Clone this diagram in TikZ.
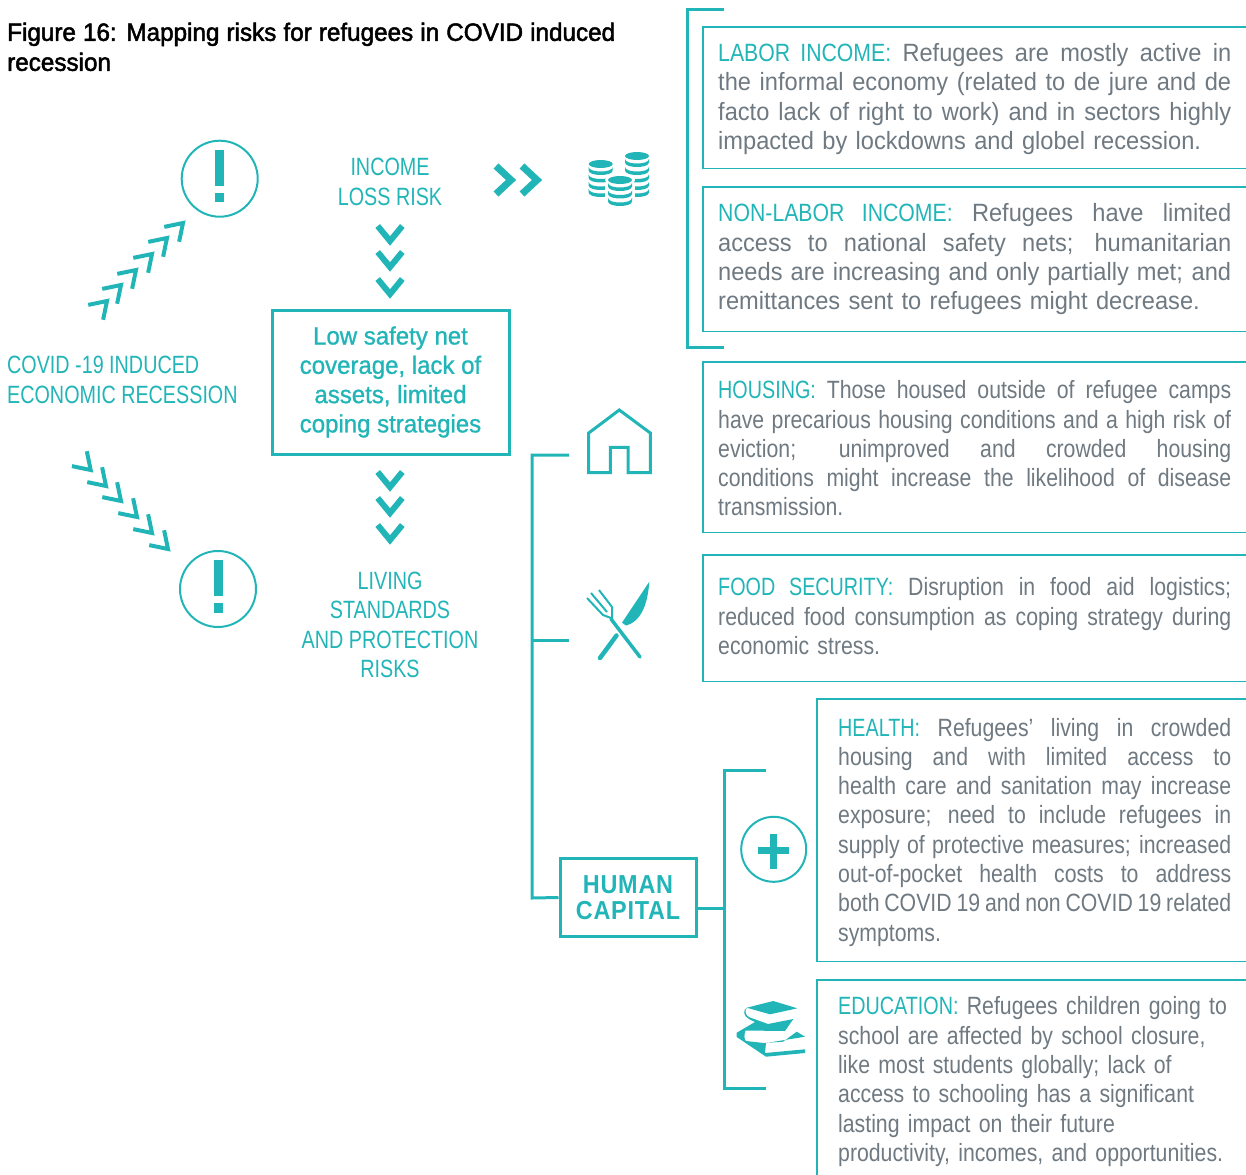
\documentclass[tikz,border=0pt]{standalone}
\usepackage{fontspec}
\usepackage{xcolor}
\usetikzlibrary{calc}
\setmainfont{Liberation Sans}
\newfontfamily\bodyfont{Liberation Sans}[FakeStretch=0.85]
\newfontfamily\widefont{Liberation Sans}[FakeStretch=0.945]
\newfontfamily\labelfont{Liberation Sans}[FakeStretch=0.79]
\newfontfamily\headfont{Liberation Sans}[FakeStretch=0.97,FakeBold=2]
\newfontfamily\safetyfont{Liberation Sans}[FakeStretch=0.96,FakeBold=1]
\newfontfamily\capfont{Liberation Sans Bold}[FakeStretch=0.9,LetterSpace=3]
\definecolor{teal1}{HTML}{22B5B8}
\definecolor{gray1}{HTML}{6F7981}
\newcommand{\tl}[1]{\textcolor{teal1}{\bodyfont #1}}
\newcommand{\tlc}[1]{\textcolor{teal1}{\labelfont #1}}
\newcommand{\jline}[2]{\makebox[#1pt][s]{\spaceskip=0pt\xspaceskip=0pt #2}}
\newcommand{\rline}[2]{\makebox[#1pt][l]{#2}}
\tikzset{
    line/.style = {draw=teal1, line width=3pt},
    thinline/.style = {draw=teal1, line width=1.3pt},
    infobox/.style = {anchor=north west, inner xsep=15pt, inner ysep=0pt, align=right,
        text=gray1, font=\bodyfont\fontsize{25}{29.3}\selectfont},
    risk/.style = {text=teal1, align=center, inner sep=0pt,
        font=\labelfont\fontsize{25}{29.3}\selectfont},
    block/.style = {line, text=teal1, align=center, inner sep=0pt},
    ring/.style = {draw=teal1, circle, line width=2pt, inner sep=0pt},
    chev/.pic = {\draw [teal1, line width=#1, miter limit=10] (-15,14) -- (0,0) -- (-15,-14);},
    smallchev/.pic = {\draw [teal1, line width=4pt, miter limit=10] (-16,10.5) -- (0,0) -- (-16,-10.5);},
    bang/.pic = {
        \fill [teal1] (-4.5,-29) rectangle (4.5,7);
        \fill [teal1] (-4.5,14) rectangle (4.5,23.5);
    },
    coin/.pic = {
        \foreach \k in {#1} {
            \fill [teal1] (-12,\k) .. controls (-12,\k+6) and (12,\k+6) .. (12,\k)
                -- (12,\k+3.5) .. controls (12,\k+9.5) and (-12,\k+9.5) .. (-12,\k+3.5) -- cycle;
        }
        \fill [teal1] (0,0) ellipse (12 and 4);
    }
}
\begin{document}
\begin{tikzpicture}[x=1pt, y=-1pt, auto, node distance=29pt]
    \useasboundingbox (0,0) rectangle (1246,1174);

    % heading
    \node [anchor=north west, inner sep=0pt, align=left, text=black,
        font=\headfont\fontsize{25}{30}\selectfont] (title) at (7,22.5)
        {\jline{608}{Figure 16: Mapping risks for refugees in COVID induced}\\recession};

    % left column
    \node [risk, align=left, anchor=west] (covid) at (7,380) {COVID -19 INDUCED\\ECONOMIC RECESSION};
    \node [ring, minimum size=76pt] (alerttop) at (219.7,178.7) {};
    \node [ring, minimum size=76pt] (alertlow) at (218,589) {};
    \pic at (alerttop) {bang};
    \pic at (alertlow) {bang};
    \foreach \x/\y in {107/301,121/285,136/270,152/254,167/238,183/223}
        \pic [rotate=45] at (\x,\y) {smallchev};
    \foreach \x/\y in {90.7/470,106/486,121/501,137/517,152/533,168/549}
        \pic [rotate=-45] at (\x,\y) {smallchev};

    % middle column
    \node [risk] (income) at (390,182) {INCOME\\LOSS RISK};
    \node [block, minimum width=237pt, minimum height=144pt,
        font=\safetyfont\fontsize{25}{29.3}\selectfont] (safety) at (390.5,382)
        {Low safety net\\coverage, lack of\\assets, limited\\coping strategies};
    \node [risk] (living) at (390,625) {LIVING\\STANDARDS\\AND PROTECTION\\RISKS};
    \foreach \y in {241,267,294,487,513,540}
        \pic [rotate=-90, yscale=.88] at (390,\y) {chev=6pt};
    \foreach \x in {511,537}
        \pic at (\x,180) {chev=7pt};

    % coins
    \pic at (637,156) {coin={3,11,18.5,26,33}};
    \pic at (600.7,164) {coin={3,10.5,18,25}};
    \fill [white] (620,180) ellipse (15 and 6);
    \fill [white] (605,184) rectangle (635,208);
    \pic at (620,180) {coin={3,10.5,18}};

    % house
    \draw [line, line join=miter] (619.3,410) -- (650.3,433) -- (650.3,472.7) -- (628,472.7)
        -- (628,447.3) -- (610.3,447.3) -- (610.3,472.7) -- (588.7,472.7) -- (588.7,433) -- cycle;

    % knife and fork
    \fill [teal1] (649.3,581.7) .. controls (648,600) and (643,621) .. (626,625.5)
        -- (622,622.7) -- cycle;
    \draw [teal1, line width=4.5pt, line cap=round] (616.5,635.5) -- (600,658);
    \draw [teal1, line width=3.5pt, line cap=round] (611,619) -- (640,657);
    \draw [teal1, line width=2pt] (587,598) -- (603,615) -- (611,618)
        (591,593) -- (607,612) (599,590) -- (612,607) -- (612,620);

    % plus sign
    \node [ring, minimum size=65pt] (plusring) at (773.7,849.3) {};
    \fill [teal1] (758,847) rectangle (789.3,854);
    \fill [teal1] (770,834) rectangle (777.3,869);

    % books
    \fill [teal1] (746.7,1007.7) -- (773.3,1001) -- (797.3,1008.3) -- (770,1014.3) -- cycle;
    \fill [teal1] (746.7,1007.7) .. controls (744,1012) and (746,1016) .. (750,1017.5)
        -- (768,1024) -- (793.3,1019) -- (785,1031) -- (745.5,1030.5)
        .. controls (744,1034) and (744,1040) .. (746,1041) -- (764,1043) -- (783,1041.7)
        -- (796.7,1031.7) -- (805,1036.7) -- (766,1043) -- (765,1053)
        -- (805,1049.3) -- (805,1053) -- (766,1056.7) -- (736.7,1037) -- (736.7,1032.7)
        -- (755,1022) -- (749,1019) .. controls (743,1016) and (743,1010) .. (746.7,1007.7) -- cycle;
    \fill [white] (749,1010) -- (770,1016) -- (768,1021.5) -- (751,1015) .. controls (748,1014) and (748,1012) .. (749,1010) -- cycle;

    % text boxes
    \node [infobox, font=\widefont\fontsize{25}{29.3}\selectfont, text width=513pt, minimum height=141pt] (labor) at (703,27) {%
        \jline{513}{\rule{0pt}{20.5pt}\tl{LABOR INCOME:} Refugees are mostly active in}\\
        \jline{513}{the informal economy (related to de jure and de}\\
        \jline{513}{facto lack of right to work) and in sectors highly}\\
        \rline{513}{impacted by lockdowns and globel recession.}};
    \node [infobox, font=\widefont\fontsize{25}{29.3}\selectfont, text width=513pt, minimum height=144pt] (nonlabor) at (703,187) {%
        \jline{513}{\tl{NON-LABOR INCOME:} Refugees have limited}\\
        \jline{513}{access to national safety nets; humanitarian}\\
        \jline{513}{needs are increasing and only partially met; and}\\
        \rline{513}{remittances sent to refugees might decrease.}};
    \node [infobox, text width=513pt, minimum height=170pt] (housing) at (703,362) {%
        \jline{513}{\rule{0pt}{20.5pt}\tlc{HOUSING:} Those housed outside of refugee camps}\\
        \jline{513}{have precarious housing conditions and a high risk of}\\
        \jline{513}{eviction; unimproved and crowded housing}\\
        \jline{513}{conditions might increase the likelihood of disease}\\
        \rline{513}{transmission.}};
    \node [infobox, text width=513pt, minimum height=126pt] (food) at (703,555) {%
        \jline{513}{\tlc{FOOD SECURITY:} Disruption in food aid logistics;}\\
        \jline{513}{reduced food consumption as coping strategy during}\\
        \rline{513}{\rule[-4pt]{0pt}{1pt}economic stress.}};
    \node [infobox, text width=399pt, minimum height=262pt] (health) at (817,699) {%
        \jline{393}{\rule{0pt}{22pt}\tlc{HEALTH:} Refugees’ living in crowded}\\
        \jline{393}{housing and with limited access to}\\
        \jline{393}{health care and sanitation may increase}\\
        \jline{393}{exposure; need to include refugees in}\\
        \jline{393}{supply of protective measures; increased}\\
        \jline{393}{out-of-pocket health costs to address}\\
        \jline{393}{both COVID 19 and non COVID 19 related}\\
        \rline{393}{symptoms.}};
    \node [infobox, text width=399pt, minimum height=197pt] (education) at (817,980) {%
        \rline{393}{\rule{0pt}{24pt}\tlc{EDUCATION:} Refugees children going to}\\
        \rline{393}{school are affected by school closure,}\\
        \rline{393}{like most students globally; lack of}\\
        \rline{393}{access to schooling has a significant}\\
        \rline{393}{lasting impact on their future}\\
        \rline{393}{productivity, incomes, and opportunities.}};
    \foreach \b in {labor,nonlabor,housing,food,health}
        \draw [thinline] (\b.north east) -- (\b.north west) -- (\b.south west) -- (\b.south east);
    \draw [thinline] (education.north east) -- (education.north west) -- (education.south west);

    % human capital
    \node [block, minimum width=136pt, minimum height=78pt,
        font=\capfont\fontsize{26}{27}\selectfont] (human) at (628,897.5) {HUMAN\\[-0.5pt]CAPITAL};

    % brackets
    \coordinate (incometop) at (724,10);
    \coordinate (incomelow) at (724,347);
    \coordinate (houseend) at (569,455);
    \coordinate (foodend) at (569,640);
    \coordinate (foodjoin) at (532,640);
    \coordinate (humanout) at (696,908);
    \coordinate (humanjoin) at (724,908);
    \coordinate (healthend) at (766,770);
    \coordinate (bookend) at (766,1088);

    \draw [line] (incometop) -| (687,347) -- (incomelow);
    \draw [line] (houseend) -| (532,898) -- (human.west);
    \draw [line] (foodjoin) -- (foodend);
    \draw [line] (healthend) -| (724,1088) -- (bookend);
    \draw [line] (humanout) -- (humanjoin);
\end{tikzpicture}
\end{document}
